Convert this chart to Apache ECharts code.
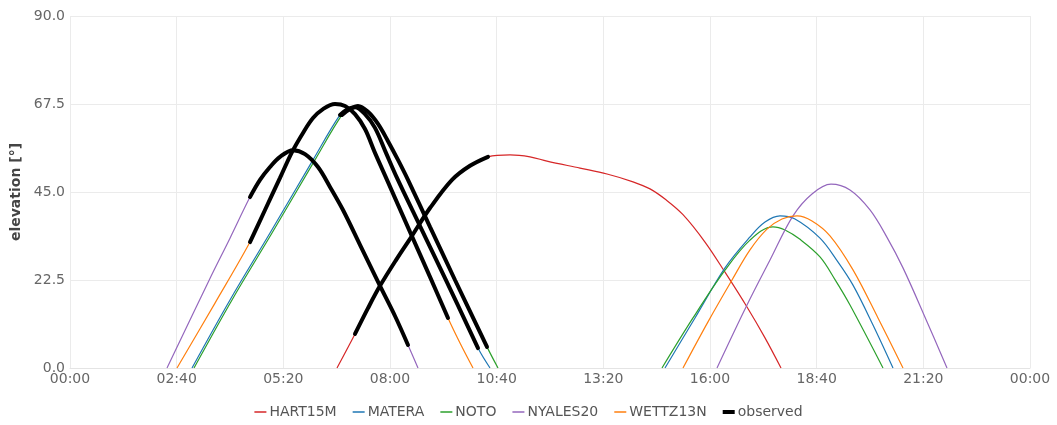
<!DOCTYPE html>
<html>
<head>
<meta charset="utf-8">
<script src="https://cdn.jsdelivr.net/npm/echarts@6/dist/echarts.min.js"></script>
<style>
html,body{margin:0;padding:0;background:#fff;}
#chart{width:1057px;height:425px;}
</style>
</head>
<body>
<div id="chart"></div>
<script>
// time in minutes since 00:00, elevation in degrees
const stations = ['HART15M', 'MATERA', 'NOTO', 'NYALES20', 'WETTZ13N'];
const xTicks = ['00:00','02:40','05:20','08:00','10:40','13:20','16:00','18:40','21:20','00:00'];
const yTicks = [0, 22.5, 45, 67.5, 90];

const hart15mPass1 = [[400.5,0],[427.5,8.7],[447,15.3],[465,21.0],[489,27.6],[513,33.8],[540,40.9],[573,48.1],[600,51.7],[627,54.0],[660,54.5],[690,54.0],[715.5,52.9],[765,51.1],[805.5,49.6],[844.5,47.6],[870,45.8],[894,43.0],[919.5,39.2],[952.5,32.2],[982.5,24.5],[1015.5,15.6],[1042.5,7.7],[1066.5,0]];

const materaPass1 = [[183,0],[240,17.4],[300,34.5],[364.5,53.2],[405,64.7],[417,66.2],[427.5,66.7],[442.5,64.9],[457.5,61.4],[474,55.0],[490.5,48.6],[525,36.3],[562.5,23.0],[612,5.1],[630,0]];
const materaPass2 = [[892.5,0],[937.5,12.8],[982.5,25.6],[1020,33.5],[1042.5,37.3],[1065,38.9],[1087.5,38.1],[1125,33.2],[1150,27.6],[1174.5,21.2],[1204.5,11.0],[1234.5,0]];

const notoPass1 = [[186,0],[243,17.4],[303,34.5],[367.5,53.2],[408,64.7],[420,66.2],[432,67.0],[447,65.5],[462,62.4],[477,58.0],[492,53.2],[507,48.1],[540,36.1],[577.5,22.5],[625.5,5.4],[642,0]];
const notoPass2 = [[888,0],[934.5,12.8],[982.5,25.0],[1020,32.7],[1054.5,36.1],[1072.5,35.3],[1095,32.9],[1125,28.4],[1147.5,22.6],[1170,16.1],[1219.5,0]];

const nyales20Pass1 = [[145.5,0],[208.5,22.4],[240,33.2],[270,43.7],[285,48.1],[300,51.4],[315,54.0],[334.5,55.7],[352.5,54.7],[372,51.4],[390,46.3],[409.5,40.4],[435,31.5],[465,21.0],[487.5,13.3],[507,5.9],[522,0]];
const nyales20Pass2 = [[970.5,0],[1015.5,16.1],[1050,27.6],[1084.5,38.9],[1113,44.5],[1141.5,47.0],[1170,45.5],[1200,40.4],[1225.5,33.4],[1249.5,25.6],[1282.5,13.0],[1315.5,0]];

const wettz13nPass1 = [[160.5,0],[217.5,16.6],[270,32.2],[292.5,40.4],[315,48.6],[333,55.2],[349.5,60.1],[364.5,63.9],[379.5,66.2],[397.5,67.5],[412.5,67.0],[427.5,64.9],[442.5,61.1],[457.5,55.0],[475.5,48.1],[510,34.8],[540,23.3],[567,12.8],[585,6.4],[604.5,0]];
const wettz13nPass2 = [[919.5,0],[957,11.8],[993,22.5],[1020,30.2],[1045.5,35.5],[1068,38.1],[1090.5,38.9],[1113,37.6],[1140,33.8],[1174.5,25.1],[1212,12.8],[1249.5,0]];

// observed windows [start, end] in minutes, per pass
const observedWindows = [
  {pass: hart15mPass1, start: 427.5, end: 627},
  {pass: materaPass1, start: 405, end: 612},
  {pass: notoPass1, start: 408, end: 625.5},
  {pass: nyales20Pass1, start: 270, end: 507},
  {pass: wettz13nPass1, start: 270, end: 567}
];

const stationPasses = {
  'HART15M': [hart15mPass1],
  'MATERA': [materaPass1, materaPass2],
  'NOTO': [notoPass1, notoPass2],
  'NYALES20': [nyales20Pass1, nyales20Pass2],
  'WETTZ13N': [wettz13nPass1, wettz13nPass2]
};
const colors = {
  'HART15M': '#d62728',
  'MATERA': '#1f77b4',
  'NOTO': '#2ca02c',
  'NYALES20': '#9467bd',
  'WETTZ13N': '#ff7f0e'
};

const SMOOTH = 0.35;
const series = [];
stations.forEach(function(name){
  stationPasses[name].forEach(function(p){
    series.push({
      name: name, type: 'line', data: p, showSymbol: false, symbol: 'none',
      smooth: SMOOTH,
      color: colors[name],
      lineStyle: {width: 1.2, color: colors[name]},
      z: 2, silent: true
    });
  });
});
observedWindows.forEach(function(w){
  const seg = w.pass.filter(function(d){ return d[0] >= w.start && d[0] <= w.end; });
  series.push({
    name: 'observed', type: 'line', data: seg, showSymbol: false, symbol: 'none',
    smooth: SMOOTH,
    color: '#000',
    lineStyle: {width: 4, color: '#000', cap: 'round'},
    z: 5, silent: true
  });
});

function fmtTime(v){
  const idx = Math.round(v / 160);
  if (Math.abs(idx * 160 - v) < 1e-6 && idx >= 0 && idx < xTicks.length) return xTicks[idx];
  const m = ((v % 1440) + 1440) % 1440;
  const h = Math.floor(m / 60), mm = Math.round(m % 60);
  return (h < 10 ? '0' : '') + h + ':' + (mm < 10 ? '0' : '') + mm;
}

const thinIcon = 'path://M0,0 L12,0 L12,1.5 L0,1.5 Z';
const thickIcon = 'path://M0,0 L12,0 L12,4 L0,4 Z';
const legendData = stations.map(function(s){ return {name: s, icon: thinIcon}; });
legendData.push({name: 'observed', icon: thickIcon});

const chart = echarts.init(document.getElementById('chart'), null, {renderer: 'canvas'});
chart.setOption({
  animation: false,
  backgroundColor: '#fff',
  textStyle: {fontFamily: 'DejaVu Sans'},
  grid: {left: 70, right: 27, top: 16, bottom: 57, containLabel: false},
  legend: {
    bottom: 1, left: 'center',
    itemWidth: 12, itemHeight: 12, itemGap: 16, symbolKeepAspect: true,
    textStyle: {color: '#555', fontSize: 14, fontFamily: 'DejaVu Sans', padding: [0, 0, 0, -2]},
    data: legendData
  },
  xAxis: {
    type: 'value', min: 0, max: 1440, interval: 160,
    axisLine: {show: true, lineStyle: {color: '#e4e4e4'}},
    axisTick: {show: false},
    axisLabel: {color: '#666', fontSize: 14, margin: 4, formatter: fmtTime, fontFamily: 'DejaVu Sans'},
    splitLine: {show: true, lineStyle: {color: '#ebebeb', width: 1}}
  },
  yAxis: {
    type: 'value', min: yTicks[0], max: yTicks[yTicks.length - 1], interval: 22.5,
    name: 'elevation [°]', nameLocation: 'middle', nameGap: 35,
    nameTextStyle: {color: '#444', fontSize: 14, fontWeight: 'bold', fontFamily: 'DejaVu Sans'},
    axisLine: {show: false}, axisTick: {show: false},
    axisLabel: {color: '#666', fontSize: 14, margin: 5, formatter: function(v){ return v.toFixed(1); }, fontFamily: 'DejaVu Sans'},
    splitLine: {show: true, lineStyle: {color: '#ebebeb', width: 1}}
  },
  series: series
});
</script>
</body>
</html>
